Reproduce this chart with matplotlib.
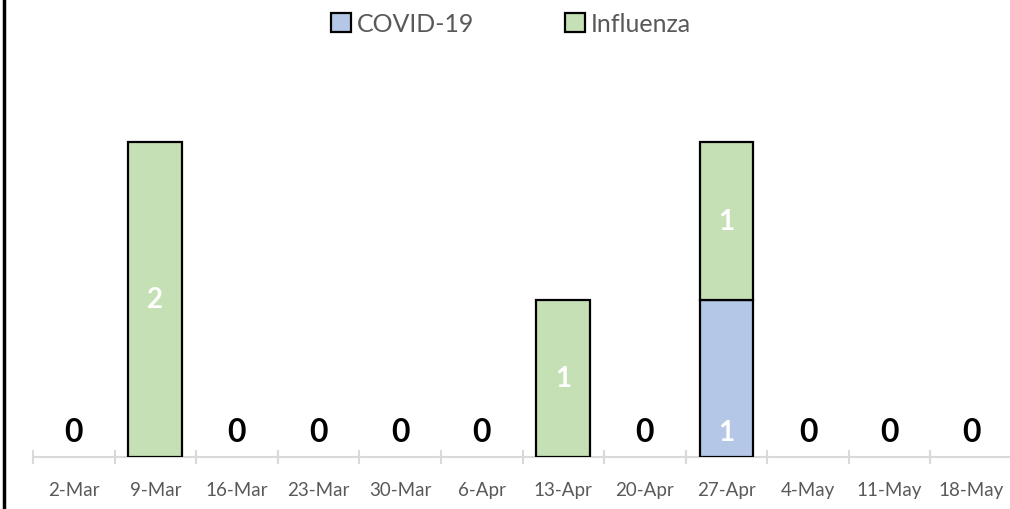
import numpy as np
import matplotlib.pyplot as plt
from matplotlib.lines import Line2D

weeks = ['2-Mar', '9-Mar', '16-Mar', '23-Mar', '30-Mar', '6-Apr',
         '13-Apr', '20-Apr', '27-Apr', '4-May', '11-May', '18-May']
covid = [0, 0, 0, 0, 0, 0, 0, 0, 1, 0, 0, 0]
influenza = [0, 2, 0, 0, 0, 0, 1, 0, 1, 0, 0, 0]

plt.rcParams['font.family'] = ['Lato', 'DejaVu Sans']

W, H = 1010, 510
fig = plt.figure(figsize=(W / 100, H / 100), dpi=100)
ax = fig.add_axes([33 / W, (H - 458) / H, 979 / W, 378 / H])

x = np.arange(len(weeks))
covid = np.array(covid)
influenza = np.array(influenza)
width = 0.66

# only draw non-empty segments so zero bars leave no outline
cm = covid > 0
im = influenza > 0
b1 = ax.bar(x[cm], covid[cm], width, color='#b4c7e7', edgecolor='black',
            linewidth=1.6, zorder=3)
b2 = ax.bar(x[im], influenza[im], width, bottom=covid[im], color='#c5e0b4',
            edgecolor='black', linewidth=1.6, zorder=3)

for i in range(len(weeks)):
    total = covid[i] + influenza[i]
    if total == 0:
        ax.text(x[i], 0.16, '0', ha='center', va='center', fontsize=23,
                fontweight='bold', color='black')
        continue
    if covid[i] > 0:
        ax.text(x[i], 0.16, '%d' % covid[i], ha='center', va='center', fontsize=20,
                fontweight='bold', color='white')
    if influenza[i] > 0:
        ax.text(x[i], covid[i] + influenza[i] / 2, '%d' % influenza[i], ha='center',
                va='center', fontsize=20, fontweight='bold', color='white')

ax.set_xlim(-0.5, len(weeks) - 0.5)
ax.set_ylim(0, 2.4)
ax.set_xticks(x)
ax.set_xticklabels(weeks, color='#595959', fontsize=13.5)
ax.set_xticks(np.arange(len(weeks) + 1) - 0.5, minor=True)
ax.tick_params(axis='x', which='major', length=0, pad=17)
ax.tick_params(axis='x', which='minor', direction='inout', length=10, width=1.5,
               color='#d9d9d9')
ax.set_yticks([])
for s in ['top', 'right', 'left']:
    ax.spines[s].set_visible(False)
ax.spines['bottom'].set_color('#d9d9d9')
ax.spines['bottom'].set_linewidth(1.5)

leg = fig.legend(handles=[b1, b2], labels=['COVID-19', 'Influenza'], loc='upper center',
                 bbox_to_anchor=(0.506, 1.018), ncol=2, frameon=False, fontsize=18,
                 handlelength=0.8, handleheight=0.8, handletextpad=0.25, columnspacing=3.6)
for t in leg.get_texts():
    t.set_color('#595959')

fig.add_artist(Line2D([4 / W, 4 / W], [0, 1], color='black', linewidth=2.5,
                      transform=fig.transFigure))

fig.savefig('out.png', dpi=100)
